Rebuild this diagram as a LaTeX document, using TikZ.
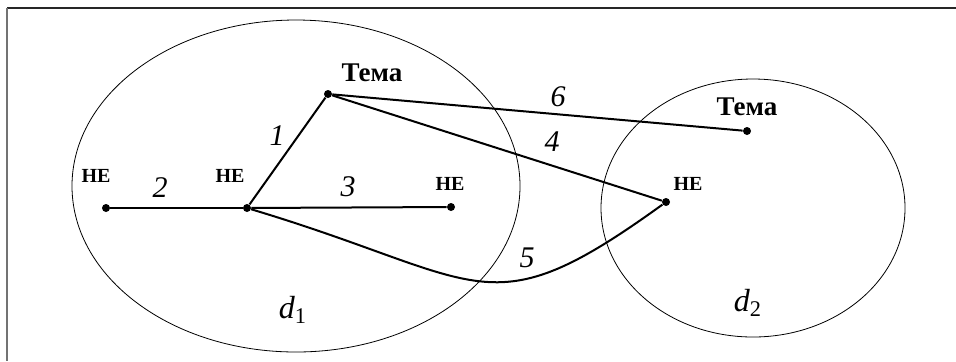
\documentclass[tikz,border=0pt]{standalone}
\usepackage{fontspec}
\setmainfont{Liberation Serif}
\usetikzlibrary{positioning}

\begin{document}
\begin{tikzpicture}[x=0.5pt,y=-0.5pt,
  pt/.style={circle,fill,inner sep=0pt,minimum size=4pt},
  nelbl/.style={font=\fontsize{10}{12}\selectfont\bfseries},
  temalbl/.style={font=\fontsize{13.5}{15}\selectfont\bfseries},
  numlbl/.style={font=\fontsize{15}{17}\selectfont\itshape},
  dlbl/.style={font=\fontsize{16}{18}\selectfont},
  link/.style={line width=1pt}]
  \useasboundingbox (0,0) rectangle (956,361);
  % frame (top and left only)
  \draw[line width=1pt,black!85] (7,8) -- (956,8);
  \draw[line width=1pt,black!55] (7,8) -- (7,361);
  % the two documents
  \draw[line width=0.4pt] (296,186) ellipse [x radius=224, y radius=166];
  \draw[line width=0.4pt] (753,208) ellipse [x radius=152, y radius=129];
  \node[dlbl] (d1) at (293,310) {\textit{d}\textsubscript{1}};
  \node[dlbl] (d2) at (748,303) {\textit{d}\textsubscript{2}};
  % points
  \node[pt] (tema1) at (328,94) {};
  \node[pt] (ne1) at (106,208) {};
  \node[pt] (ne2) at (247,208) {};
  \node[pt] (ne3) at (451,207) {};
  \node[pt] (ne4) at (666,202) {};
  \node[pt] (tema2) at (747,131) {};
  % point labels
  \node[temalbl] (t1) at (372,73) {Тема};
  \node[temalbl] (t2) at (747,107) {Тема};
  \foreach \n/\x/\y in {a/96/176,b/230/176,c/450/184,d/688/184}
    \node[nelbl] (lbl\n) at (\x,\y) {НЕ};
  % links
  \draw[link] (tema1) -- (ne2);
  \draw[link] (ne1) -- (ne2);
  \draw[link] (ne2) -- (ne3);
  \draw[link] (tema1) -- (ne4);
  \draw[link] (tema1) -- (tema2);
  \draw[link] (ne2) .. controls (487,280) and (486,332) .. (ne4);
  % link numbers
  \foreach \k/\x/\y in {1/277/136,2/160/188,3/348/187,4/552/142,5/527/258,6/558/97}
    \node[numlbl] (num\k) at (\x,\y) {\k};
\end{tikzpicture}
\end{document}
